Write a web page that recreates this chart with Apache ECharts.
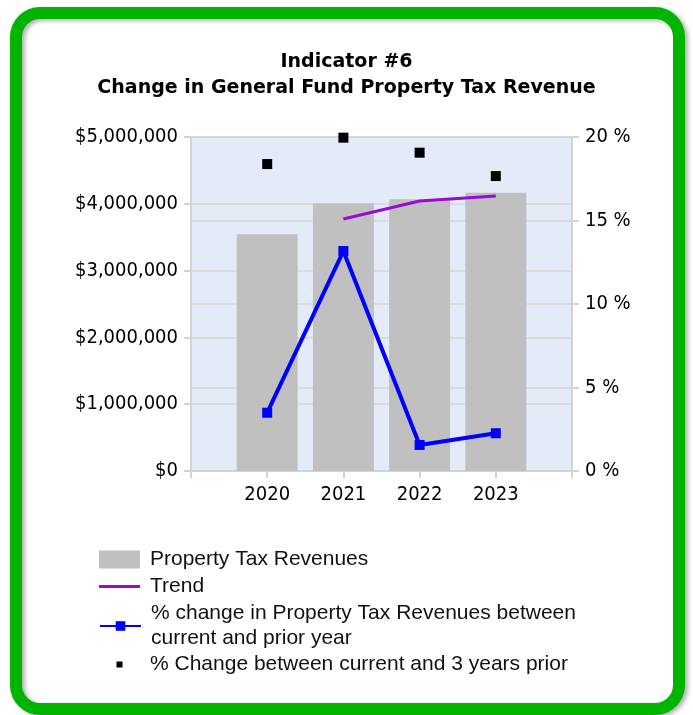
<!DOCTYPE html>
<html>
<head>
<meta charset="utf-8">
<script src="https://cdn.jsdelivr.net/npm/echarts@6/dist/echarts.min.js"></script>
<style>
  html, body { margin: 0; padding: 0; background: #fff; }
  #main { width: 693px; height: 715px; }
</style>
</head>
<body>
<div id="main"></div>
<script>
// x positions 2019..2024, only the middle four are labelled
const years = ['', '2020', '2021', '2022', '2023', ''];
const revenues = [null, 3543000, 4010000, 4067000, 4166000, null];
const trend = [null, null, 3772000, 4042000, 4117000, null];
const pctPrior = [null, 3.49, 13.17, 1.56, 2.26, null];
const pct3yr = [null, 18.38, 19.96, 19.06, 17.66, null];

const names = [
  'Property Tax Revenues',
  'Trend',
  '% change in Property Tax Revenues between\ncurrent and prior year',
  '% Change between current and 3 years prior'
];

const axisFont = "'DejaVu Sans Condensed', 'DejaVu Sans', sans-serif";
const titleFont = "'DejaVu Sans', sans-serif";
const legendFont = "'Liberation Sans', Arial, sans-serif";
const axisGray = '#D3D3D3';

const chart = echarts.init(document.getElementById('main'));

function legendBox(name, left, top, w, h, extra) {
  return Object.assign({
    data: [name],
    left: left,
    top: top,
    orient: 'vertical',
    padding: 0,
    itemWidth: w,
    itemHeight: h,
    selectedMode: false,
    symbolKeepAspect: true,
    textStyle: {
      fontFamily: legendFont,
      fontSize: 21,
      lineHeight: 25,
      color: '#111',
      padding: [0, 0, 0, 5]
    }
  }, extra || {});
}

const option = {
  animation: false,
  backgroundColor: '#fff',
  title: {
    text: 'Indicator #6\nChange in General Fund Property Tax Revenue',
    left: 'center',
    top: 44,
    textStyle: {
      fontFamily: titleFont,
      fontWeight: 'bold',
      fontSize: 19,
      lineHeight: 26,
      color: '#000'
    }
  },
  graphic: [{
    type: 'rect',
    shape: { x: 16, y: 13, width: 663, height: 696, r: 24 },
    style: {
      fill: null,
      stroke: '#00B400',
      lineWidth: 12,
      shadowBlur: 4,
      shadowOffsetX: 3,
      shadowOffsetY: 2,
      shadowColor: 'rgba(0,0,0,0.3)'
    },
    z: 100
  }],
  legend: [
    legendBox(names[0], 99, 547, 41, 18, { icon: 'rect' }),
    legendBox(names[1], 99, 574, 41, 3, { icon: 'path://M0,0h41v3h-41z' }),
    legendBox(names[2], 99, 601, 41, 12),
    legendBox(names[3], 116.5, 652, 41, 6, { icon: 'path://M0,0h1v1h-1z' })
  ],
  grid: {
    left: 191,
    right: 121,
    top: 137,
    bottom: 244,
    show: true,
    backgroundColor: '#E3EBF8',
    borderWidth: 0
  },
  xAxis: {
    type: 'category',
    data: years,
    boundaryGap: false,
    axisLine: { lineStyle: { color: axisGray, width: 2 } },
    axisTick: { length: 7, lineStyle: { color: axisGray, width: 2 } },
    axisLabel: {
      margin: 14,
      color: '#000',
      fontFamily: axisFont,
      fontSize: 20
    }
  },
  yAxis: [{
    type: 'value',
    min: 0,
    max: 5000000,
    interval: 1000000,
    axisLine: { show: true, lineStyle: { color: axisGray, width: 2 } },
    axisTick: { show: true, length: 7, lineStyle: { color: axisGray, width: 2 } },
    splitLine: { lineStyle: { color: '#D6D6D6', width: 1.5 } },
    axisLabel: {
      margin: 13,
      color: '#000',
      fontFamily: axisFont,
      fontSize: 20,
      formatter: v => '$' + v.toLocaleString('en-US')
    }
  }, {
    type: 'value',
    min: 0,
    max: 20,
    interval: 5,
    position: 'right',
    axisLine: { show: true, lineStyle: { color: axisGray, width: 2 } },
    axisTick: { show: true, length: 7, lineStyle: { color: axisGray, width: 2 } },
    splitLine: { lineStyle: { color: '#D6D6D6', width: 1.5 } },
    axisLabel: {
      margin: 13,
      color: '#000',
      fontFamily: axisFont,
      fontSize: 20,
      formatter: '{value} %'
    }
  }],
  series: [{
    name: names[0],
    type: 'bar',
    yAxisIndex: 0,
    barWidth: 61,
    itemStyle: { color: '#C0C0C0' },
    data: revenues
  }, {
    name: names[1],
    type: 'line',
    yAxisIndex: 0,
    symbol: 'none',
    lineStyle: { color: '#9A0ACF', width: 3 },
    itemStyle: { color: '#9A0ACF' },
    data: trend
  }, {
    name: names[2],
    type: 'line',
    yAxisIndex: 1,
    symbol: 'rect',
    symbolSize: 10,
    lineStyle: { color: '#0000FF', width: 4 },
    itemStyle: { color: '#0000FF' },
    data: pctPrior
  }, {
    name: names[3],
    type: 'scatter',
    yAxisIndex: 1,
    symbol: 'rect',
    symbolSize: 10,
    itemStyle: { color: '#000', opacity: 1 },
    data: pct3yr
  }]
};

chart.setOption(option);
</script>
</body>
</html>
